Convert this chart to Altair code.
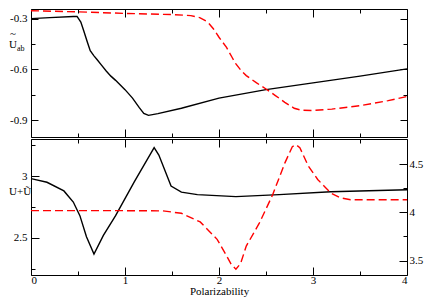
import altair as alt
import pandas as pd

# ---- data ----
top_black_x = [0, 0.2, 0.45, 0.49, 0.53, 0.56, 0.60, 0.63, 0.67, 0.70, 0.75, 0.80, 0.85, 0.90,
               1.00, 1.08, 1.15, 1.20, 1.25, 1.35, 1.6, 2.0, 2.5, 3.0, 3.5, 4.0]
top_black_y = [-0.300, -0.294, -0.287, -0.287, -0.32, -0.37, -0.44, -0.49, -0.52, -0.54, -0.575,
               -0.61, -0.64, -0.665, -0.72, -0.77, -0.825, -0.86, -0.872, -0.862, -0.83, -0.77,
               -0.72, -0.68, -0.64, -0.597]

top_red_x = [0, 0.5, 1.0, 1.5, 1.7, 1.8, 1.88, 1.94, 2.0, 2.08, 2.14, 2.18, 2.24, 2.29, 2.4,
             2.5, 2.6, 2.7, 2.8, 2.88, 3.0, 3.2, 3.5, 3.8, 4.0]
top_red_y = [-0.253, -0.26, -0.269, -0.276, -0.282, -0.295, -0.32, -0.36, -0.41, -0.47, -0.53,
             -0.568, -0.61, -0.637, -0.68, -0.716, -0.755, -0.795, -0.83, -0.842, -0.843,
             -0.835, -0.815, -0.785, -0.76]

bot_black_x = [0, 0.17, 0.35, 0.45, 0.52, 0.59, 0.67, 0.77, 0.9, 1.1, 1.31, 1.36, 1.49, 1.6,
               1.77, 2.18, 2.64, 3.19, 4.0]
bot_black_y = [2.98, 2.95, 2.88, 2.79, 2.68, 2.51, 2.37, 2.52, 2.68, 2.955, 3.23, 3.17, 2.92,
               2.87, 2.85, 2.834, 2.85, 2.873, 2.889]

bot_red_x = [0, 1.0, 1.4, 1.6, 1.8, 1.98, 2.08, 2.13, 2.18, 2.23, 2.29, 2.43, 2.57, 2.70, 2.78,
             2.82, 2.86, 2.95, 3.05, 3.19, 3.29, 3.40, 4.0]
bot_red_y = [4.017, 4.017, 4.015, 3.99, 3.90, 3.72, 3.55, 3.46, 3.41, 3.47, 3.65, 3.89, 4.18,
             4.51, 4.68, 4.70, 4.67, 4.48, 4.34, 4.20, 4.15, 4.13, 4.13]

x_ticks = [0, 0.5, 1, 1.5, 2, 2.5, 3, 3.5, 4]
top_y_ticks = [-0.3, -0.45, -0.6, -0.75, -0.9]
bot_left_ticks = [2.25, 2.5, 2.75, 3, 3.25]
bot_right_ticks = [3.5, 3.75, 4, 4.25, 4.5]

W = 376
H_TOP = 128
H_BOT = 136
FONT = "Liberation Serif"


def dash(test, minor, major):
    return {"condition": {"test": test, "value": minor}, "value": major}


x_scale = alt.Scale(domain=[0, 4], nice=False, zero=False)

df_tb = pd.DataFrame({"x": top_black_x, "y": top_black_y})
df_tr = pd.DataFrame({"x": top_red_x, "y": top_red_y})
df_bb = pd.DataFrame({"x": bot_black_x, "y": bot_black_y})
df_br = pd.DataFrame({"x": bot_red_x, "y": bot_red_y})

top_x_axis = alt.Axis(values=x_ticks, labels=False, ticks=False, domain=False, title=None,
                      grid=True, gridColor="black", gridOpacity=1, gridWidth=1,
                      gridDash=dash("datum.value % 1 != 0", [4, H_TOP - 8], [8, H_TOP - 16]))
top_y_axis = alt.Axis(values=top_y_ticks, ticks=False, domain=False, title=None,
                      labelPadding=4,
                      labelExpr="indexof([-0.45, -0.75], datum.value) >= 0 ? '' : '' + datum.value",
                      grid=True, gridColor="black", gridOpacity=1, gridWidth=1,
                      gridDash=dash("indexof([-0.45, -0.75], datum.value) >= 0",
                                    [4, W - 8], [7, W - 14]))
top_y_scale = alt.Scale(domain=[-1.0, -0.243], nice=False, zero=False)

top_black = alt.Chart(df_tb).mark_line(color="black", strokeWidth=1.4, clip=True).encode(
    x=alt.X("x:Q", scale=x_scale, axis=top_x_axis),
    y=alt.Y("y:Q", scale=top_y_scale, axis=top_y_axis),
)
top_red = alt.Chart(df_tr).mark_line(color="#ff0000", strokeWidth=1.4, strokeDash=[8, 4],
                                     clip=True).encode(
    x=alt.X("x:Q", scale=x_scale, axis=top_x_axis),
    y=alt.Y("y:Q", scale=top_y_scale, axis=top_y_axis),
)
top_U = alt.Chart(pd.DataFrame({"t": ["U"]})).mark_text(
    align="left", baseline="middle", font=FONT, fontSize=11, color="black").encode(
    x=alt.value(-22), y=alt.value(36), text="t:N")
top_tilde = alt.Chart(pd.DataFrame({"t": ["~"]})).mark_text(
    align="center", baseline="middle", font=FONT, fontSize=11, color="black").encode(
    x=alt.value(-18), y=alt.value(25), text="t:N")
top_sub = alt.Chart(pd.DataFrame({"t": ["ab"]})).mark_text(
    align="left", baseline="middle", font=FONT, fontSize=8, color="black").encode(
    x=alt.value(-14), y=alt.value(40), text="t:N")

top = alt.layer(top_black, top_red, top_U, top_tilde, top_sub).properties(width=W, height=H_TOP)

bot_x_axis = alt.Axis(values=x_ticks, ticks=False, domain=False, title="Polarizability",
                      labelPadding=-1, titlePadding=0,
                      labelExpr="datum.value % 1 == 0 ? '' + datum.value : ''",
                      grid=True, gridColor="black", gridOpacity=1, gridWidth=1,
                      gridDash=dash("datum.value % 1 != 0", [4, H_BOT - 8], [8, H_BOT - 16]))
bot_left_axis = alt.Axis(values=bot_left_ticks, ticks=False, domain=False, title=None,
                         labelPadding=4, orient="left",
                         labelExpr="datum.value % 0.5 != 0 ? '' : '' + datum.value",
                         grid=True, gridColor="black", gridOpacity=1, gridWidth=1,
                         gridDash=dash("datum.value % 0.5 != 0", [4, 1000], [8, 1000]))
bot_right_axis = alt.Axis(values=bot_right_ticks, ticks=False, domain=False, title=None,
                          labelPadding=2, orient="right",
                          labelExpr="datum.value % 0.5 != 0 ? '' : '' + datum.value",
                          grid=True, gridColor="black", gridOpacity=1, gridWidth=1,
                          gridDash=dash("datum.value % 0.5 != 0", [4, 1000], [8, 1000]))

bot_black = alt.Chart(df_bb).mark_line(color="black", strokeWidth=1.4, clip=True).encode(
    x=alt.X("x:Q", scale=x_scale, axis=bot_x_axis),
    y=alt.Y("y:Q", scale=alt.Scale(domain=[2.2, 3.3], nice=False, zero=False), axis=bot_left_axis),
)
bot_red = alt.Chart(df_br).mark_line(color="#ff0000", strokeWidth=1.4, strokeDash=[8, 4],
                                     clip=True).encode(
    x=alt.X("x:Q", scale=x_scale, axis=bot_x_axis),
    y=alt.Y("y:Q", scale=alt.Scale(domain=[3.35, 4.76], nice=False, zero=False),
            axis=bot_right_axis),
)
bot_label = alt.Chart(pd.DataFrame({"t": ["U+Ũ"]})).mark_text(
    align="left", baseline="middle", font=FONT, fontSize=11, color="black").encode(
    x=alt.value(-22), y=alt.value(53), text="t:N")

bottom = alt.layer(bot_black, bot_red, bot_label).resolve_scale(y="independent").properties(
    width=W, height=H_BOT)

chart = alt.vconcat(top, bottom, spacing=0).properties(
    padding={"left": 0, "top": 0, "right": 0, "bottom": 0},
    background="white",
).configure_view(stroke="black", strokeWidth=1).configure_axis(
    labelFont=FONT, labelFontSize=11, labelColor="black",
    titleFont=FONT, titleFontSize=11, titleFontWeight="normal", titleColor="black",
)

chart.save("out.html", embed_options={"renderer": "svg", "actions": False})
